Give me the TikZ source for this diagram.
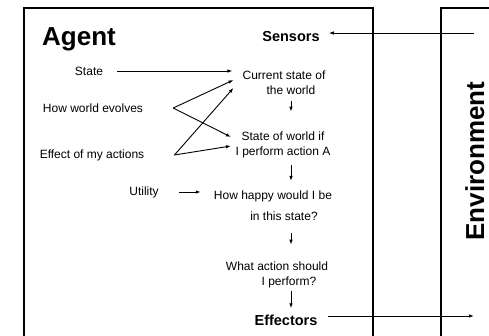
\documentclass[tikz,border=0pt]{standalone}
\usepackage{fontspec}
\setmainfont{Liberation Sans}
\usepackage{tikz}
\usetikzlibrary{arrows.meta,positioning}

\tikzset{
  box/.style={line width=2.5pt},
  arr/.style={line width=0.9pt, -{Latex[length=5pt,width=3.5pt]}},
  txt/.style={inner sep=0pt, font=\fontsize{12}{15}\selectfont, align=center},
  bigtxt/.style={inner sep=0pt, font=\fontsize{26}{30}\selectfont\bfseries},
  boldtxt/.style={inner sep=0pt, font=\fontsize{14.5}{17}\selectfont\bfseries}
}

\begin{document}
\begin{tikzpicture}[x=1pt,y=-1pt]

\useasboundingbox (0,0) rectangle (489,336);
\clip (0,0) rectangle (489,336);

% Agent and environment boxes
\draw[box] (24,8) rectangle (373,360);
\draw[box] (441,8) rectangle (510,360);

% Titles
\node[bigtxt, anchor=base west] (agent) at (42,46) {Agent};
\node[bigtxt, anchor=base, rotate=90] (env) at (484,161) {Environment};

% Sensors and effectors
\node[boldtxt, anchor=base] (sensors) at (291,42) {Sensors};
\node[boldtxt, anchor=base] (effectors) at (286,325) {Effectors};
\coordinate (senin) at (474,33);
\coordinate (effout) at (474,316);

% Inside the agent
\node[txt] (state) at (89,71) {State};
\node[txt] (evolves) at (93,108) {How world evolves};
\node[txt] (effect) at (92,155) {Effect of my actions};
\node[txt] (utility) at (144,192) {Utility};

\node[txt] (cur) at (284,83) {Current state of\\\hspace*{14pt}the world};
\node[txt] (act) at (283,145) {State of world if\\I perform action A};
\node[txt] (happy) at (273,206) {How happy would I be\\[6pt]\hspace*{22pt}in this state?};
\node[txt] (what) at (277,275) {What action should\\\hspace*{24pt}I perform?};

\coordinate[right=30pt of evolves] (ev);
\coordinate[right=30pt of effect] (ef);

% Connectors
\draw[arr] (senin) -- (senin -| sensors.east) [shorten >=9pt];
\draw[arr, shorten <=10pt] (effectors.east |- effout) -- (effout);

\draw[arr, shorten <=14pt, shorten >=10pt] (state.east) -- (state.east -| cur.west);
\draw[arr, shorten <=20pt, shorten >=13pt] (utility.east) -- (utility.east -| happy.west);

\draw[arr] (ev) -- ([shift={(-9pt,3pt)}]cur.west);
\draw[arr] (ev) -- ([shift={(-4.5pt,8pt)}]act.west);
\draw[arr] (ef) -- ([shift={(-9pt,-5pt)}]cur.west);
\draw[arr] (ef) -- ([shift={(-4.5pt,-1pt)}]act.west);

\draw[arr, shorten <=6pt, shorten >=20pt] ([xshift=7pt]cur.south) -- ([xshift=8pt]act.north);
\draw[arr, shorten <=6.5pt, shorten >=10pt] ([xshift=8pt]act.south) -- ([xshift=18pt]happy.north);
\draw[arr, shorten <=12pt, shorten >=17pt] ([xshift=18pt]happy.south) -- ([xshift=14pt]what.north);
\draw[arr, shorten <=2.5pt, shorten >=6pt] ([xshift=14pt]what.south) -- ([xshift=5pt]effectors.north);

\end{tikzpicture}
\end{document}
